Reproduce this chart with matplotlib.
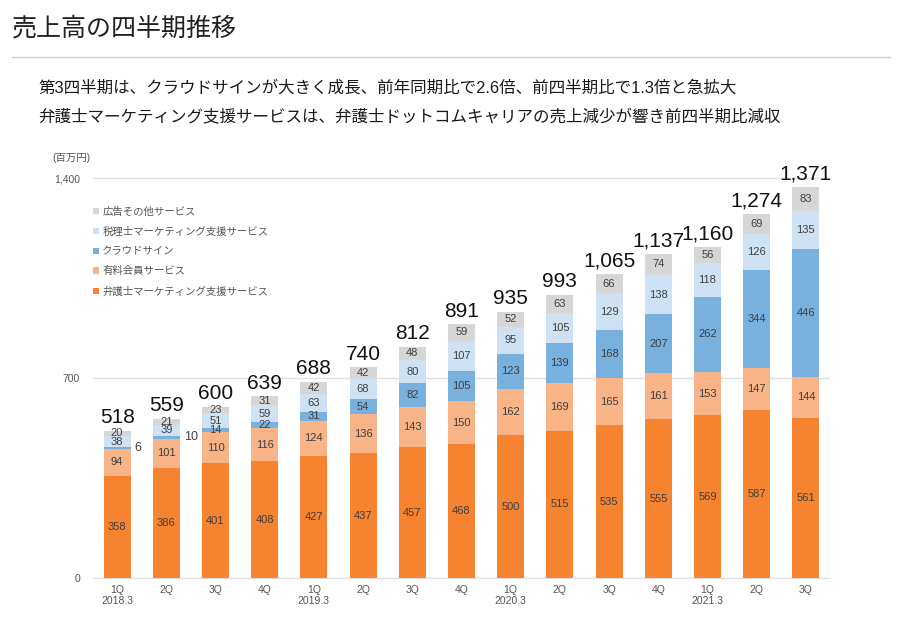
import numpy as np
import matplotlib.pyplot as plt

plt.rcParams['font.family'] = ['Liberation Sans', 'Noto Sans CJK JP', 'DejaVu Sans']

quarters = ["1Q\n2018.3", "2Q", "3Q", "4Q", "1Q\n2019.3", "2Q", "3Q", "4Q",
            "1Q\n2020.3", "2Q", "3Q", "4Q", "1Q\n2021.3", "2Q", "3Q"]
lawyer_mkt = [358, 386, 401, 408, 427, 437, 457, 468, 500, 515, 535, 555, 569, 587, 561]
paid_member = [94, 101, 110, 116, 124, 136, 143, 150, 162, 169, 165, 161, 153, 147, 144]
cloudsign = [6, 10, 14, 22, 31, 54, 82, 105, 123, 139, 168, 207, 262, 344, 446]
tax_mkt = [38, 39, 51, 59, 63, 68, 80, 107, 95, 105, 129, 138, 118, 126, 135]
ads_other = [20, 21, 23, 31, 42, 42, 48, 59, 52, 63, 66, 74, 56, 69, 83]
totals = [518, 559, 600, 639, 688, 740, 812, 891, 935, 993, 1065, 1137, 1160, 1274, 1371]

series = [
    ("弁護士マーケティング支援サービス", lawyer_mkt, "#F5832F"),
    ("有料会員サービス", paid_member, "#F8B386"),
    ("クラウドサイン", cloudsign, "#78B0DE"),
    ("税理士マーケティング支援サービス", tax_mkt, "#CFE2F3"),
    ("広告その他サービス", ads_other, "#D6D6D6"),
]

fig = plt.figure(figsize=(9, 6.17), dpi=100)

# header
fig.text(12 / 900, 1 - 28 / 617, "売上高の四半期推移", fontsize=18, va="center", ha="left", color="#222222")
fig.add_artist(plt.Line2D([12 / 900, 890 / 900], [1 - 57 / 617] * 2, color="#CCCCCC", lw=1))
fig.text(38 / 900, 1 - 88 / 617, "第3四半期は、クラウドサインが大きく成長、前年同期比で2.6倍、前四半期比で1.3倍と急拡大",
         fontsize=11.9, va="center", ha="left", color="#1a1a1a")
fig.text(38 / 900, 1 - 117 / 617, "弁護士マーケティング支援サービスは、弁護士ドットコムキャリアの売上減少が響き前四半期比減収",
         fontsize=11.9, va="center", ha="left", color="#1a1a1a")

ax = fig.add_axes([92.5 / 900, 1 - 578 / 617, 738 / 900, 428 / 617])
x = np.arange(len(quarters))
width = 0.55
bottom = np.zeros(len(quarters))
handles = []
for name, vals, col in series:
    vals = np.array(vals)
    b = ax.bar(x, vals, width, bottom=bottom, color=col, label=name, zorder=2)
    handles.append(b)
    for i, v in enumerate(vals):
        if v < 12:
            # too thin for a label inside the bar
            ax.text(x[i] + 0.36, bottom[i] + v / 2, str(v), ha="left", va="center",
                    fontsize=9, color="#404040")
        else:
            ax.text(x[i], bottom[i] + v / 2, str(v), ha="center", va="center",
                    fontsize=8, color="#404040")
    bottom += vals

for i, t in enumerate(totals):
    ax.text(x[i], bottom[i] + 12, f"{t:,}", ha="center", va="bottom", fontsize=15, color="#111111")

ax.set_xlim(-0.5, len(quarters) - 0.5)
ax.set_ylim(0, 1498)
ax.set_yticks([0, 700, 1400])
ax.set_yticklabels(["0", "700", "1,400"])
ax.yaxis.grid(True, color="#E0E0E0", lw=1, zorder=0)
ax.set_xticks(x)
ax.set_xticklabels(quarters, fontsize=7.5, color="#555555", linespacing=1.1)
ax.tick_params(axis="y", length=0, labelsize=7.5, labelcolor="#555555", pad=9)
ax.tick_params(axis="x", length=0, pad=5)
for s in ["top", "right", "left"]:
    ax.spines[s].set_visible(False)
ax.spines["bottom"].set_color("#DDDDDD")

fig.text(52 / 900, 1 - 158 / 617, "(百万円)", fontsize=7.5, color="#555555", va="center", ha="left")

leg = ax.legend(handles[::-1], [s[0] for s in series][::-1], loc="upper left",
                bbox_to_anchor=(-0.012, 0.89), frameon=False, fontsize=7.5,
                handlelength=0.6, handleheight=0.6, handletextpad=0.3, labelspacing=0.95)
for t in leg.get_texts():
    t.set_color("#555555")

fig.savefig("out.png", dpi=100)
